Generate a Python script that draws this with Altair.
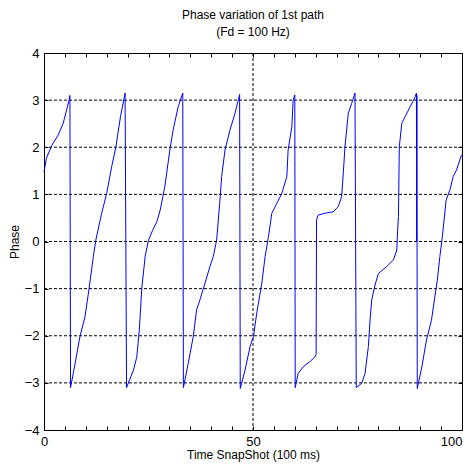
import altair as alt
import pandas as pd

# Phase of the 1st path (x: time snapshot, y: phase in rad)
time_x = [
    0.0, 0.6, 1.8, 3.4, 4.6, 6.0, 6.2, 6.35,
    7.0, 8.6, 9.8, 10.8, 11.8, 12.4, 13.8, 15.0, 16.2, 17.2, 18.3, 19.4, 19.75,
    21.4, 22.2, 22.8, 23.4, 24.2, 25.0, 26.0, 27.0, 27.8, 28.9, 30.1, 30.9, 32.1, 33.2, 33.35,
    34.5, 35.7, 36.5, 37.3, 38.5, 39.7, 40.5, 41.3, 42.1, 42.5, 43.3, 44.5, 45.7, 46.8, 46.95,
    48.1, 49.3, 50.1, 50.9, 52.1, 52.9, 53.7, 54.5, 55.7, 56.9, 58.1, 58.4, 59.3, 59.6, 60.0, 60.1,
    60.8, 62.0, 63.6, 64.8, 65.1, 65.2, 65.6, 67.2, 69.2, 70.4, 71.2, 71.6, 72.0, 72.8, 73.6, 74.4, 74.7,
    76.0, 76.8, 77.6, 78.0, 78.4, 79.2, 80.0, 82.0, 83.6, 84.4, 84.6, 84.8, 85.0, 85.6, 86.4, 87.6, 88.8, 89.1,
    89.15, 89.2, 89.3,
    90.4, 91.5, 92.7, 93.5, 94.1, 94.7, 95.3, 96.2, 97.1, 97.9, 98.7, 99.9,
]
phase_y = [
    1.48, 1.77, 2.03, 2.26, 2.51, 3.0, 3.1, -3.1,
    -2.8, -2.02, -1.6, -0.99, -0.32, 0.03, 0.6, 1.02, 1.59, 2.01, 2.65, 3.15, -3.1,
    -2.73, -2.45, -1.88, -0.99, -0.32, 0.03, 0.24, 0.42, 0.67, 1.16, 1.94, 2.37, 2.86, 3.15, -3.1,
    -2.59, -2.02, -1.45, -1.24, -0.89, -0.53, -0.32, 0.03, 0.88, 1.38, 1.94, 2.37, 2.72, 3.12, -3.12,
    -2.73, -2.23, -2.02, -1.52, -0.89, -0.32, 0.1, 0.6, 0.81, 1.02, 1.38, 1.94, 2.44, 3.0, 3.11, -3.1,
    -2.8, -2.66, -2.55, -2.45, -2.4, 0.46, 0.56, 0.6, 0.63, 0.74, 0.95, 1.45, 2.01, 2.72, 2.93, 3.15, -3.1,
    -3.01, -2.8, -2.23, -1.67, -1.24, -0.92, -0.68, -0.53, -0.39, -0.18, 0.24, 0.53, 2.01, 2.51, 2.65, 2.86, 3.07, 3.15,
    0.0, 3.1, -3.12,
    -2.66, -2.09, -1.67, -1.17, -0.82, -0.32, 0.1, 0.88, 1.09, 1.38, 1.52, 1.84,
]

grid_y = [-3, -2, -1, 0, 1, 2, 3]
grid_x = [50]
x_tick_values = [0, 5, 10, 15, 20, 25, 30, 35, 40, 45, 50, 55, 60, 65, 70, 75, 80, 85, 90, 95, 100]
x_tick_labels = [0, 50, 100]
y_tick_values = [-4, -3, -2, -1, 0, 1, 2, 3, 4]

title_lines = ["Phase variation of 1st path", "(Fd = 100 Hz)"]
x_title = "Time SnapShot (100 ms)"
y_title = "Phase"

df = pd.DataFrame({"t": time_x, "phase": phase_y, "i": list(range(len(time_x)))})
gy = pd.DataFrame({"g": grid_y})
gx = pd.DataFrame({"g": grid_x})

FONT = "Liberation Sans, Arial, Helvetica, sans-serif"
xscale = alt.Scale(domain=[0, 100], nice=False, zero=False)
yscale = alt.Scale(domain=[-4, 4], nice=False, zero=False)

label_expr = "indexof([" + ",".join(str(v) for v in x_tick_labels) + "], datum.value) >= 0 ? datum.label : ''"

common = dict(domain=False, grid=False, tickSize=4, offset=-4, tickColor="black",
              labelColor="black", titleColor="black", labelFont=FONT, titleFont=FONT,
              labelFontSize=13, titleFontSize=12, titleFontWeight="normal", tickWidth=1)

grid_h = alt.Chart(gy).mark_rule(color="black", strokeDash=[3, 2], strokeWidth=1).encode(
    y=alt.Y("g:Q", scale=yscale, axis=None)
)
grid_v = alt.Chart(gx).mark_rule(color="black", strokeDash=[3, 2], strokeWidth=1).encode(
    x=alt.X("g:Q", scale=xscale, axis=None)
)

line = alt.Chart(df).mark_line(color="#0000ff", strokeWidth=1).encode(
    x=alt.X("t:Q", scale=xscale, axis=alt.Axis(
        orient="bottom", values=x_tick_values, labelExpr=label_expr, labelFlush=False,
        labelAlign=alt.condition("datum.value == 100", alt.value("right"), alt.value("center")),
        labelPadding=5, title=x_title, titlePadding=1, **common)),
    y=alt.Y("phase:Q", scale=yscale, axis=alt.Axis(
        orient="left", values=y_tick_values, labelPadding=5, title=y_title,
        titlePadding=3, labelFlush=False, **common)),
    order=alt.Order("i:Q"),
)

ticks_other = alt.Chart(df).mark_line(opacity=0).encode(
    x=alt.X("t:Q", scale=xscale, axis=alt.Axis(
        orient="top", values=x_tick_values, labels=False, title=None, **common)),
    y=alt.Y("phase:Q", scale=yscale, axis=alt.Axis(
        orient="right", values=y_tick_values, labels=False, title=None, **common)),
    order=alt.Order("i:Q"),
)

chart = alt.layer(grid_h, grid_v, line, ticks_other).resolve_axis(
    x="independent", y="independent"
).properties(
    width=418,
    height=377,
    padding={"left": 36, "top": 45, "right": 1, "bottom": 33},
    autosize=alt.AutoSizeParams(type="none"),
    background="white",
    title=alt.TitleParams(text=title_lines, font=FONT, fontSize=12, fontWeight="normal",
                          color="black", anchor="middle", offset=8, lineHeight=17),
).configure_view(stroke="black", strokeWidth=1)

chart.save("out.html", embed_options={"renderer": "svg", "actions": False})
